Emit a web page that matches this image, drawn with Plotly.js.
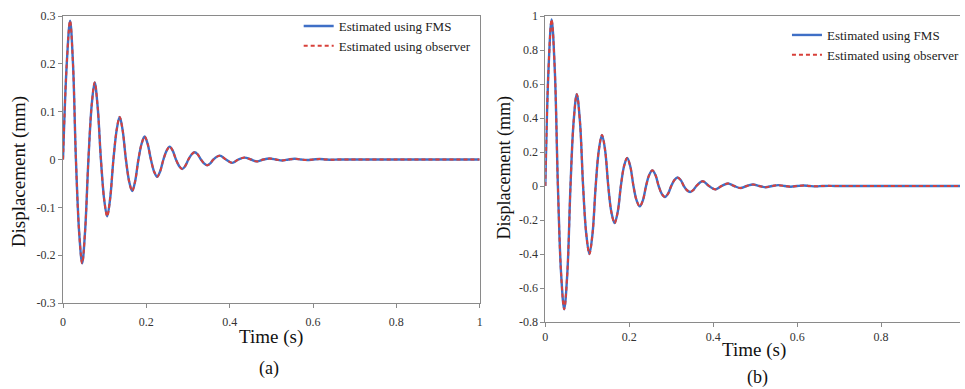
<!DOCTYPE html>
<html>
<head>
<meta charset="utf-8">
<script src="https://cdn.plot.ly/plotly-3.0.1.min.js"></script>
<style>html,body{margin:0;padding:0;background:#fff;}#chart{width:965px;height:389px;}</style>
</head>
<body>
<div id="chart"></div>
<script>
// ---- Data ----
// Panel (a)
var timeA = [0, 0.009, 0.017, 0.024, 0.031, 0.039, 0.046, 0.053, 0.061, 0.069, 0.076, 0.083, 0.091, 0.099, 0.106, 0.113, 0.121, 0.129, 0.136, 0.143, 0.151, 0.159, 0.166, 0.173, 0.181, 0.189, 0.196, 0.203, 0.211, 0.219, 0.226, 0.233, 0.241, 0.249, 0.256, 0.263, 0.271, 0.279, 0.286, 0.293, 0.301, 0.309, 0.316, 0.323, 0.331, 0.339, 0.346, 0.353, 0.361, 0.376, 0.391, 0.406, 0.421, 0.436, 0.451, 0.466, 0.481, 0.496, 0.511, 0.526, 0.541, 0.556, 0.571, 0.586, 0.601, 0.616, 0.631, 0.646, 0.661, 0.8, 1.0];
var fmsA  = [0, 0.20, 0.29, 0.20, 0, -0.155, -0.217, -0.15, 0, 0.115, 0.161, 0.112, 0, -0.085, -0.119, -0.083, 0, 0.063, 0.089, 0.062, 0, -0.047, -0.066, -0.046, 0, 0.034, 0.048, 0.033, 0, -0.026, -0.036, -0.025, 0, 0.019, 0.027, 0.019, 0, -0.014, -0.020, -0.014, 0, 0.011, 0.015, 0.011, 0, -0.0085, -0.012, -0.0085, 0, 0.008, 0, -0.007, 0, 0.004, 0, -0.004, 0, 0.002, 0, -0.002, 0, 0.0015, 0, -0.001, 0, 0.001, 0, -0.0005, 0, 0, 0];
var obsA  = [0, 0.20, 0.29, 0.20, 0, -0.155, -0.217, -0.15, 0, 0.115, 0.161, 0.112, 0, -0.085, -0.119, -0.083, 0, 0.063, 0.089, 0.062, 0, -0.047, -0.066, -0.046, 0, 0.034, 0.048, 0.033, 0, -0.026, -0.036, -0.025, 0, 0.019, 0.027, 0.019, 0, -0.014, -0.020, -0.014, 0, 0.011, 0.015, 0.011, 0, -0.0085, -0.012, -0.0085, 0, 0.008, 0, -0.007, 0, 0.004, 0, -0.004, 0, 0.002, 0, -0.002, 0, 0.0015, 0, -0.001, 0, 0.001, 0, -0.0005, 0, 0, 0];
// Panel (b)
var timeB = [0, 0.0075, 0.015, 0.0225, 0.030, 0.0375, 0.045, 0.0525, 0.060, 0.0675, 0.075, 0.0825, 0.090, 0.0975, 0.105, 0.1125, 0.120, 0.1275, 0.135, 0.1425, 0.150, 0.1575, 0.165, 0.1725, 0.180, 0.1875, 0.195, 0.2025, 0.210, 0.2175, 0.225, 0.2325, 0.240, 0.2475, 0.255, 0.2625, 0.270, 0.2775, 0.285, 0.2925, 0.300, 0.3075, 0.315, 0.3225, 0.330, 0.3375, 0.345, 0.3525, 0.360, 0.375, 0.390, 0.405, 0.420, 0.435, 0.450, 0.465, 0.480, 0.495, 0.510, 0.525, 0.540, 0.555, 0.570, 0.585, 0.600, 0.615, 0.630, 0.645, 0.660, 0.675, 0.690, 0.8, 0.988];
var fmsB  = [0, 0.68, 0.98, 0.69, 0, -0.51, -0.725, -0.51, 0, 0.38, 0.54, 0.38, 0, -0.28, -0.40, -0.28, 0, 0.21, 0.30, 0.21, 0, -0.155, -0.218, -0.153, 0, 0.116, 0.165, 0.115, 0, -0.085, -0.12, -0.084, 0, 0.065, 0.092, 0.064, 0, -0.046, -0.065, -0.045, 0, 0.035, 0.05, 0.035, 0, -0.025, -0.035, -0.024, 0, 0.028, 0, -0.02, 0, 0.015, 0, -0.012, 0, 0.009, 0, -0.007, 0, 0.005, 0, -0.004, 0, 0.003, 0, -0.002, 0, 0.001, 0, 0, 0];
var obsB  = [0, 0.68, 0.98, 0.69, 0, -0.51, -0.725, -0.51, 0, 0.38, 0.54, 0.38, 0, -0.28, -0.40, -0.28, 0, 0.21, 0.30, 0.21, 0, -0.155, -0.218, -0.153, 0, 0.116, 0.165, 0.115, 0, -0.085, -0.12, -0.084, 0, 0.065, 0.092, 0.064, 0, -0.046, -0.065, -0.045, 0, 0.035, 0.05, 0.035, 0, -0.025, -0.035, -0.024, 0, 0.028, 0, -0.02, 0, 0.015, 0, -0.012, 0, 0.009, 0, -0.007, 0, 0.005, 0, -0.004, 0, 0.003, 0, -0.002, 0, 0.001, 0, 0, 0];

var seriesNames = ['Estimated using FMS', 'Estimated using observer'];
var ticksA_y = [-0.3, -0.2, -0.1, 0, 0.1, 0.2, 0.3];
var ticksA_x = [0, 0.2, 0.4, 0.6, 0.8, 1];
var ticksB_y = [-0.8, -0.6, -0.4, -0.2, 0, 0.2, 0.4, 0.6, 0.8, 1];
var ticksB_x = [0, 0.2, 0.4, 0.6, 0.8];

var BLUE = '#3f6fc6', RED = '#d8403a';
var SERIF = 'Liberation Serif';
var AXC = '#8a8a8a';

var traces = [
  {x: timeA, y: fmsA, name: seriesNames[0], xaxis: 'x', yaxis: 'y', legend: 'legend', mode: 'lines',
   line: {color: BLUE, width: 2.4, shape: 'spline', smoothing: 1}},
  {x: timeA, y: obsA, name: seriesNames[1], xaxis: 'x', yaxis: 'y', legend: 'legend', mode: 'lines',
   line: {color: RED, width: 2, dash: '4px,3px', shape: 'spline', smoothing: 1}},
  {x: timeB, y: fmsB, name: seriesNames[0], xaxis: 'x2', yaxis: 'y2', legend: 'legend2', mode: 'lines',
   line: {color: BLUE, width: 2.4, shape: 'spline', smoothing: 1}},
  {x: timeB, y: obsB, name: seriesNames[1], xaxis: 'x2', yaxis: 'y2', legend: 'legend2', mode: 'lines',
   line: {color: RED, width: 2, dash: '4px,3px', shape: 'spline', smoothing: 1}}
];

function ax(extra) {
  var base = {showgrid: false, zeroline: false, showline: true, linecolor: AXC, linewidth: 1,
    ticks: 'outside', ticklen: 4, tickcolor: AXC, tickfont: {family: SERIF, size: 12, color: '#333'},
    tickmode: 'array', fixedrange: true};
  for (var k in extra) base[k] = extra[k];
  return base;
}

var W = 902, H = 306; // plot area in px
function px(x) { return (x - 63) / W; }
function py(y) { return (322 - y) / H; }

var layout = {
  width: 965, height: 389,
  font: {family: SERIF, color: '#222'},
  margin: {l: 63, r: 0, t: 16, b: 67},
  paper_bgcolor: '#fff', plot_bgcolor: '#fff',
  xaxis: ax({domain: [0, px(482)], range: [0, 1], anchor: 'y', mirror: true,
    tickvals: ticksA_x, ticktext: ticksA_x.map(String), ticklabelstandoff: 4}),
  yaxis: ax({domain: [py(303), 1], range: [-0.3, 0.3], anchor: 'x', mirror: true,
    tickvals: ticksA_y, ticktext: ticksA_y.map(String)}),
  xaxis2: ax({domain: [px(548), 1], range: [0, 0.988], anchor: 'y2', mirror: true,
    tickvals: ticksB_x, ticktext: ticksB_x.map(String)}),
  yaxis2: ax({domain: [0, 1], range: [-0.8, 1], anchor: 'x2',
    tickvals: ticksB_y, ticktext: ticksB_y.map(String)}),
  legend: {x: px(300), y: 1 + 5 / H, xanchor: 'left', yanchor: 'top', bgcolor: 'rgba(0,0,0,0)',
    font: {family: SERIF, size: 13, color: '#222'}, tracegroupgap: 0, itemwidth: 30},
  legend2: {x: px(791), y: 1 - 4 / H, xanchor: 'left', yanchor: 'top', bgcolor: 'rgba(0,0,0,0)',
    font: {family: SERIF, size: 13, color: '#222'}, tracegroupgap: 0, itemwidth: 30},
  showlegend: true,
  annotations: [
    {text: 'Displacement (mm)', xref: 'paper', yref: 'paper', x: px(19), y: py(172), textangle: -90,
     showarrow: false, xanchor: 'center', yanchor: 'middle', font: {family: SERIF, size: 19, color: '#111'}},
    {text: 'Time (s)', xref: 'paper', yref: 'paper', x: px(272), y: py(337),
     showarrow: false, xanchor: 'center', yanchor: 'middle', font: {family: SERIF, size: 19, color: '#111'}},
    {text: '(a)', xref: 'paper', yref: 'paper', x: px(270), y: py(368),
     showarrow: false, xanchor: 'center', yanchor: 'middle', font: {family: SERIF, size: 18, color: '#111'}},
    {text: 'Displacement (mm)', xref: 'paper', yref: 'paper', x: px(506), y: py(168), textangle: -90,
     showarrow: false, xanchor: 'center', yanchor: 'middle', font: {family: SERIF, size: 18, color: '#111'}},
    {text: 'Time (s)', xref: 'paper', yref: 'paper', x: px(758), y: py(350),
     showarrow: false, xanchor: 'center', yanchor: 'middle', font: {family: SERIF, size: 19, color: '#111'}},
    {text: '(b)', xref: 'paper', yref: 'paper', x: px(761), y: py(377),
     showarrow: false, xanchor: 'center', yanchor: 'middle', font: {family: SERIF, size: 18, color: '#111'}}
  ]
};

Plotly.newPlot('chart', traces, layout, {displayModeBar: false, staticPlot: true});
</script>
</body>
</html>
